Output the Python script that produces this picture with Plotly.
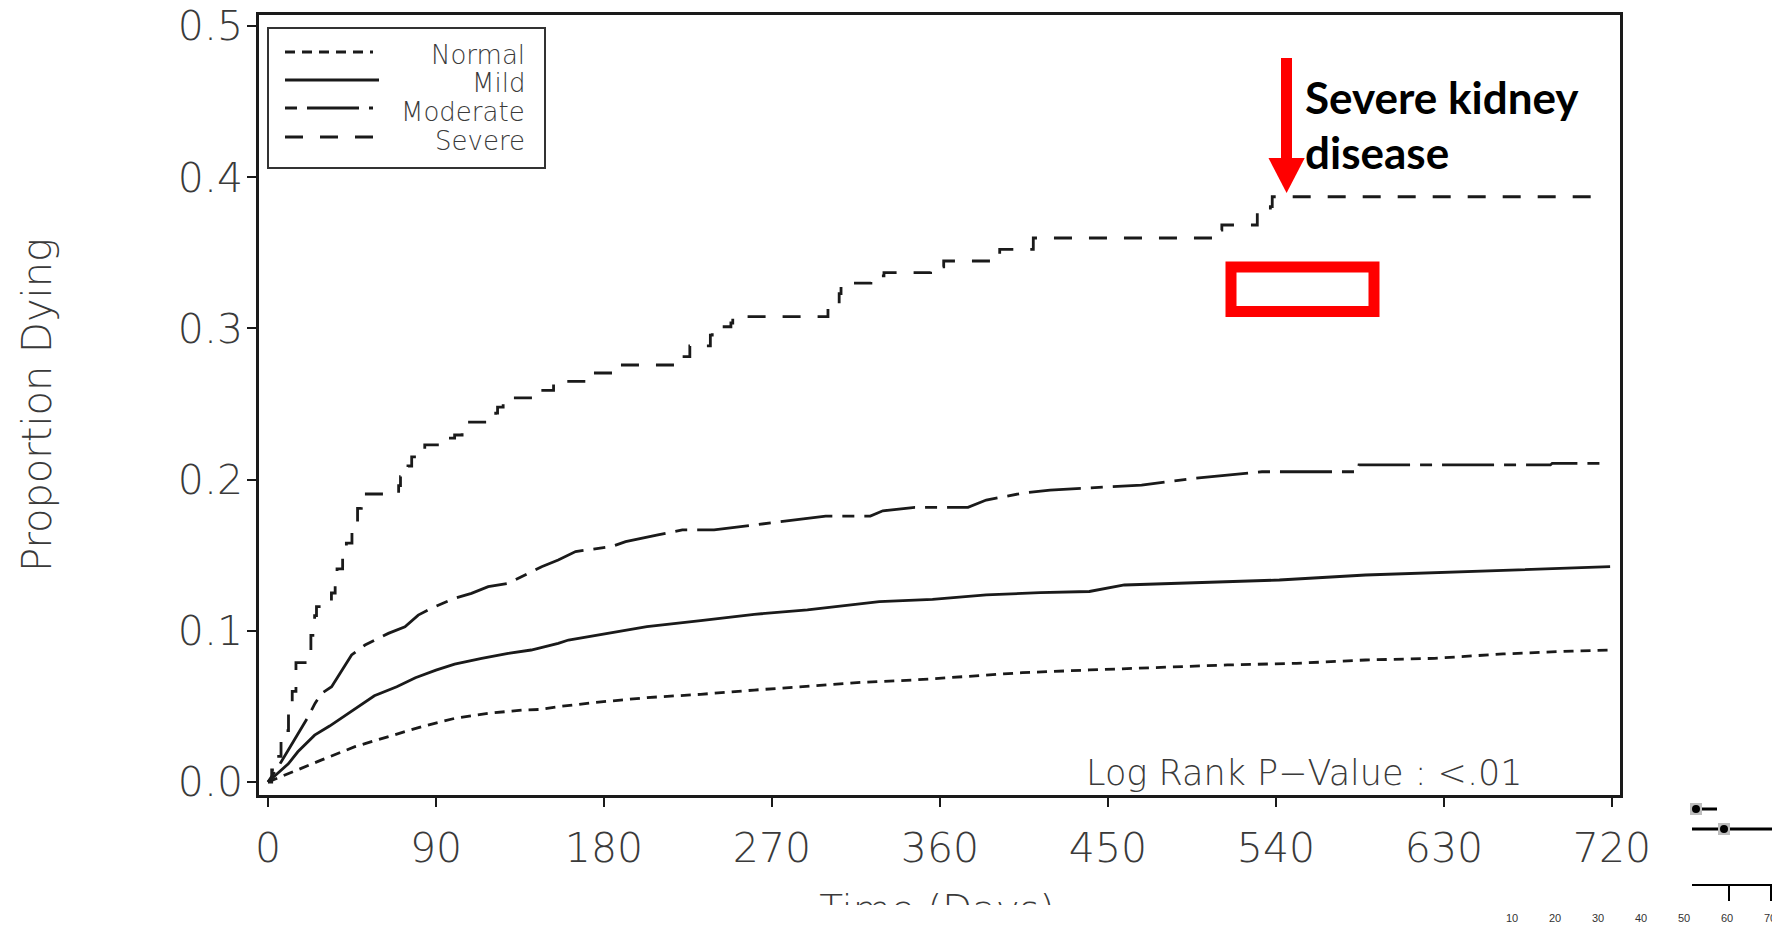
import plotly.graph_objects as go

# ---------------- data ----------------
x_ticks = [0, 90, 180, 270, 360, 450, 540, 630, 720]
y_ticks = [0.0, 0.1, 0.2, 0.3, 0.4, 0.5]

normal_days = [0, 10.9, 28.8, 46.6, 64.5, 82.3, 100, 118, 136, 145.7, 155.5, 174.4, 203, 231.8,
               260.5, 289, 318, 346.6, 375, 404, 440, 477, 514, 551, 588, 625, 661.7, 698.6, 719]
normal_vals = [0, 0.0057, 0.0146, 0.0234, 0.030, 0.0366, 0.0421, 0.0454, 0.0476, 0.048, 0.0498,
               0.0525, 0.0558, 0.058, 0.0608, 0.0635, 0.0659, 0.0675, 0.0697, 0.0723, 0.0741,
               0.0759, 0.0774, 0.0785, 0.0807, 0.0818, 0.0847, 0.0866, 0.0873]

mild_days = [0, 10.9, 16, 25, 33, 45, 57, 69, 79, 90, 100, 114.5, 128.7, 141, 155.5, 161, 180, 203,
             231.8, 260.5, 289, 327.5, 356, 384.8, 413.6, 440, 458.8, 495.7, 541.8, 588, 625,
             661.7, 719]
mild_vals = [0, 0.012, 0.020, 0.031, 0.037, 0.047, 0.057, 0.063, 0.069, 0.074, 0.078, 0.0818,
             0.0851, 0.0873, 0.0917, 0.0939, 0.0979, 0.1027, 0.1067, 0.1109, 0.1138, 0.1193,
             0.1208, 0.1237, 0.1252, 0.126, 0.1303, 0.1318, 0.1336, 0.1369, 0.1384, 0.1402, 0.1424]

moderate_days = [0, 5.5, 10.9, 16.3, 21.6, 25.2, 28.8, 34.1, 39.5, 44.8, 52, 64.5, 73.4, 80.5,
                 89.5, 100, 109, 118, 128.7, 136, 146.6, 155.5, 164.8, 184, 191.6, 208.9, 222,
                 239, 252.9, 268, 283, 298.8, 322.7, 329.4, 346.6, 375, 384.8, 404, 419, 440,
                 468, 495.7, 513, 532.5, 584, 584.5, 687, 688, 715]
moderate_vals = [0, 0.0101, 0.0212, 0.032, 0.0432, 0.052, 0.0587, 0.063, 0.074, 0.084, 0.0906,
                 0.0983, 0.1027, 0.1104, 0.116, 0.1215, 0.1248, 0.1292, 0.1314, 0.1358, 0.1424,
                 0.1468, 0.1524, 0.1557, 0.159, 0.1634, 0.1667, 0.1667, 0.1689, 0.1711, 0.1733,
                 0.1759, 0.1759, 0.1794, 0.1817, 0.1817, 0.1865, 0.191, 0.1931, 0.1945, 0.1964,
                 0.2008, 0.203, 0.2052, 0.2052, 0.2097, 0.2097, 0.2108, 0.2108]

severe_days = [0, 2, 4, 7, 9, 11, 13, 15, 21, 23, 25, 26, 30, 34, 36, 37, 40, 42, 45, 46, 48, 50,
               70, 71, 75, 77, 84, 96, 100, 104, 122, 123, 126, 146, 153, 174, 186, 222, 226,
               237, 238, 248, 249, 300, 306, 307, 323, 330, 355, 362, 392, 410, 507, 511, 530,
               537, 538, 715]
severe_vals = [0, 0.008, 0.017, 0.028, 0.034, 0.048, 0.060, 0.079, 0.085, 0.097, 0.110, 0.116,
               0.119, 0.125, 0.135, 0.141, 0.153, 0.158, 0.165, 0.169, 0.181, 0.1905, 0.196,
               0.202, 0.209, 0.215, 0.223, 0.2275, 0.2295, 0.238, 0.244, 0.248, 0.254, 0.259,
               0.265, 0.2705, 0.2758, 0.2813, 0.2884, 0.2956, 0.3011, 0.3036, 0.3078, 0.316,
               0.323, 0.330, 0.3347, 0.3369, 0.3408, 0.3446, 0.3523, 0.3598, 0.365, 0.3684,
               0.3772, 0.3805, 0.3871, 0.3871]

group_names = ["Normal", "Mild", "Moderate", "Severe"]
forest_tick_labels = ["10", "20", "30", "40", "50", "60", "70"]

# ---------------- styling / layout ----------------
# the page body has an 8px margin, so the figure is drawn 8px smaller and offset
OFF = 8
W, H = 1780 - OFF, 929 - OFF
PLOT_L, PLOT_R, PLOT_T, PLOT_B = 259, 1620, 15, 795      # page pixels of the main frame
PAPER_B = 929                                            # paper area reaches page bottom
ML, MT = PLOT_L - OFF, PLOT_T - OFF
MR, MB = 1780 - PLOT_R, 0
PW, PAPER_H = PLOT_R - PLOT_L, PAPER_B - PLOT_T
X_RANGE = [-4.8, 724.3]
Y_RANGE = [-0.0086, 0.5073]

def px(xp):
    return (xp - PLOT_L) / PW

def py(yp):
    return (PAPER_B - yp) / PAPER_H

FONT = "DejaVu Sans"
INK = "#1a1a1a"
TXT = "#3a3a3a"
DASH = {
    "Normal": "10px,7px",
    "Mild": "solid",
    "Moderate": "12px,10px,52px,10px",
    "Severe": "18px,17px",
}

fig = go.Figure()
series = [
    ("Normal", normal_days, normal_vals, "linear"),
    ("Mild", mild_days, mild_vals, "linear"),
    ("Moderate", moderate_days, moderate_vals, "linear"),
    ("Severe", severe_days, severe_vals, "hv"),
]
for name, xs, ys, shape in series:
    fig.add_trace(go.Scatter(
        x=xs, y=ys, mode="lines", name=name, showlegend=False,
        line=dict(color=INK, width=2.8, dash=DASH[name], shape=shape),
    ))

# x-axis title: the reference picture is cropped just below the top of this title.
# It sits in a small hidden subplot whose lower edge clips it at the crop line.
TITLE_BOX = (737, 1137, 860, 905)   # page px: left, right, top, bottom (crop line)
title_anchor_y = (TITLE_BOX[3] - 894) / (TITLE_BOX[3] - TITLE_BOX[2])
fig.add_trace(go.Scatter(
    x=[0.5], y=[title_anchor_y], mode="text", text=["Time (Days)"],
    textposition="bottom center", cliponaxis=True, showlegend=False, hoverinfo="skip",
    textfont=dict(family=FONT, size=39, color=TXT, weight=200),
    xaxis="x2", yaxis="y2",
))

shapes = []
annotations = []

# hand-drawn legend (right-aligned labels as in the reference)
shapes.append(dict(type="rect", xref="paper", yref="paper",
                   x0=px(268), x1=px(545), y0=py(168), y1=py(28),
                   line=dict(color="#333", width=2), fillcolor="white", layer="above"))
leg_rows = [(52, 55, 373), (80, 83, 379), (108, 112, 373), (137, 141, 377)]
for name, (ly, ty, lx1) in zip(group_names, leg_rows):
    shapes.append(dict(type="line", xref="paper", yref="paper",
                       x0=px(285), x1=px(lx1), y0=py(ly), y1=py(ly),
                       line=dict(color=INK, width=2.8, dash=DASH[name]), layer="above"))
    annotations.append(dict(xref="paper", yref="paper", x=px(527), y=py(ty),
                            xanchor="right", yanchor="middle", text=name, showarrow=False,
                            font=dict(family=FONT, size=26, color=TXT, weight=200)))

# Log rank note
annotations.append(dict(xref="paper", yref="paper", x=px(1084), y=py(773),
                        xanchor="left", yanchor="middle", text="Log Rank P\u2212Value : <.01",
                        showarrow=False, font=dict(family=FONT, size=35, color=TXT, weight=200)))

# y-axis title
annotations.append(dict(xref="paper", yref="paper", x=px(37), y=py(405),
                        xanchor="center", yanchor="middle", textangle=-90,
                        text="Proportion Dying", showarrow=False,
                        font=dict(family=FONT, size=40, color=TXT, weight=200)))

# red call-out
RED = "#ff0000"
annotations.append(dict(xref="paper", yref="paper", x=px(1303), y=py(97),
                        xanchor="left", yanchor="middle", text="<b>Severe kidney</b>",
                        showarrow=False, font=dict(family="Lato", size=44, color="black")))
annotations.append(dict(xref="paper", yref="paper", x=px(1303), y=py(152),
                        xanchor="left", yanchor="middle", text="<b>disease</b>",
                        showarrow=False, font=dict(family="Lato", size=44, color="black")))
shapes.append(dict(type="rect", xref="paper", yref="paper",
                   x0=px(1281), x1=px(1292), y0=py(160), y1=py(58),
                   line=dict(width=0), fillcolor=RED, layer="above"))
tri = "M {:.5f},{:.5f} L {:.5f},{:.5f} L {:.5f},{:.5f} Z".format(
    px(1268.5), py(158), px(1304.7), py(158), px(1286.6), py(193))
shapes.append(dict(type="path", xref="paper", yref="paper", path=tri,
                   line=dict(width=0), fillcolor=RED, layer="above"))
shapes.append(dict(type="rect", xref="paper", yref="paper",
                   x0=px(1231), x1=px(1374), y0=py(311.5), y1=py(267),
                   line=dict(color=RED, width=11), fillcolor="rgba(0,0,0,0)", layer="above"))

# cropped fragment of a neighbouring chart (bottom right)
shapes.append(dict(type="line", xref="paper", yref="paper", x0=px(1692), x1=px(1717),
                   y0=py(809), y1=py(809), line=dict(color="black", width=3)))
shapes.append(dict(type="line", xref="paper", yref="paper", x0=px(1692), x1=px(1780),
                   y0=py(829), y1=py(829), line=dict(color="black", width=3)))
for cx, cy in [(1696, 809), (1724, 829)]:
    shapes.append(dict(type="rect", xref="paper", yref="paper", x0=px(cx - 6), x1=px(cx + 6),
                       y0=py(cy + 6), y1=py(cy - 6), line=dict(width=0), fillcolor="#bdbdbd"))
    shapes.append(dict(type="circle", xref="paper", yref="paper", x0=px(cx - 4), x1=px(cx + 4),
                       y0=py(cy + 4), y1=py(cy - 4), line=dict(width=0), fillcolor="black"))
shapes.append(dict(type="line", xref="paper", yref="paper", x0=px(1692), x1=px(1780),
                   y0=py(885), y1=py(885), line=dict(color="black", width=2)))
for tx in [1729, 1771]:
    shapes.append(dict(type="line", xref="paper", yref="paper", x0=px(tx), x1=px(tx),
                       y0=py(885), y1=py(901), line=dict(color="black", width=2)))
for lab, lx in zip(forest_tick_labels, [1512, 1555, 1598, 1641, 1684, 1727, 1770]):
    annotations.append(dict(xref="paper", yref="paper", x=px(lx), y=py(918),
                            xanchor="center", yanchor="middle", text=lab, showarrow=False,
                            font=dict(family="Liberation Sans", size=11, color="#333")))

axis_common = dict(
    showline=True, linecolor=INK, linewidth=2.5, mirror=True,
    showgrid=False, zeroline=False, automargin=False, ticklabeloverflow="allow",
    ticks="outside", ticklen=9, tickwidth=2, tickcolor=INK,
    tickfont=dict(family=FONT, size=41, color=TXT, weight=200),
)
hidden_axis = dict(visible=False, range=[0, 1], fixedrange=True, showgrid=False,
                   zeroline=False, automargin=False)
fig.update_layout(
    width=W, height=H,
    margin=dict(l=ML, r=MR, t=MT, b=MB, pad=0),
    paper_bgcolor="white", plot_bgcolor="white",
    showlegend=False,
    xaxis=dict(range=X_RANGE, tickvals=x_ticks, ticklabelstandoff=6, domain=[0, 1],
               anchor="y", **axis_common),
    yaxis=dict(range=Y_RANGE, tickvals=y_ticks, tickformat=".1f", ticklabelstandoff=-4,
               domain=[py(PLOT_B), 1], anchor="x", **axis_common),
    xaxis2=dict(domain=[px(TITLE_BOX[0]), px(TITLE_BOX[1])], anchor="y2", **hidden_axis),
    yaxis2=dict(domain=[py(TITLE_BOX[3]), py(TITLE_BOX[2])], anchor="x2", **hidden_axis),
    shapes=shapes,
    annotations=annotations,
)

fig.write_html("out.html")
